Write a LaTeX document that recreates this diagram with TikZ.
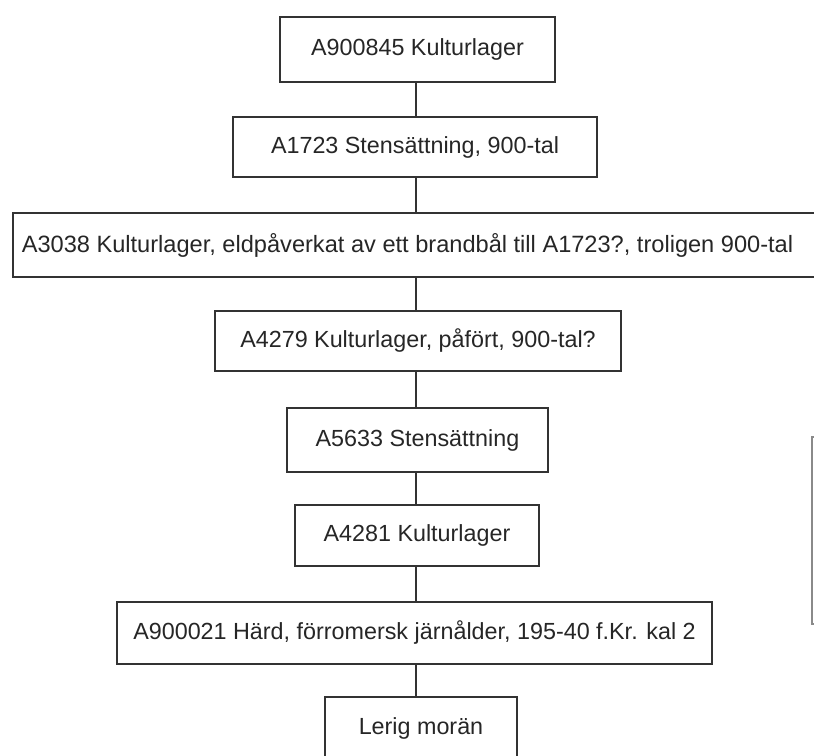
\documentclass[tikz,border=0pt]{standalone}
\usepackage{fontspec}
\setmainfont{Liberation Sans}
\definecolor{edge}{HTML}{333333}
\definecolor{sidegray}{HTML}{8A8A8A}
\tikzset{
  box/.style={draw=edge, line width=0.9pt, rectangle, inner sep=0pt, font=\fontsize{17.5}{21}\selectfont, text=black!85},
  link/.style={draw=edge, line width=0.9pt},
  lbl/.style={inner sep=0pt, font=\fontsize{17.5}{21}\selectfont, text=black!85}
}
\begin{document}
\begin{tikzpicture}[x=0.75pt, y=-0.75pt]
\useasboundingbox (0,0) rectangle (814,756);
\node[box, minimum width=275*0.75pt, minimum height=65*0.75pt] (b1) at (417.5,49.5) {A900845 Kulturlager};
\node[box, minimum width=364*0.75pt, minimum height=60*0.75pt] (b2) at (415,147) {A1723 Stensättning, 900-tal};
\node[box, minimum width=827*0.75pt, minimum height=64*0.75pt] (b3) at (426.5,245) {};
\node[lbl, font=\fontsize{17.7}{21}\selectfont] (t3) at (407.5,245) {A3038 Kulturlager, eldpåverkat av ett brandbål till A1723?, troligen 900-tal};
\node[box, minimum width=406*0.75pt, minimum height=60*0.75pt] (b4) at (418,341) {A4279 Kulturlager, påfört, 900-tal?};
\node[box, minimum width=261*0.75pt, minimum height=64*0.75pt] (b5) at (417.5,440) {A5633 Stensättning};
\node[box, minimum width=244*0.75pt, minimum height=61*0.75pt] (b6) at (417,535.5) {A4281 Kulturlager};
\node[box, minimum width=595*0.75pt, minimum height=62*0.75pt] (b7) at (414.5,633) {A900021 Härd, förromersk järnålder, 195-40 f.Kr. kal 2};
\node[box, minimum width=192*0.75pt, minimum height=63*0.75pt] (b8) at (421,728.5) {Lerig morän};
\node[draw=sidegray, line width=1.4pt, rectangle, inner sep=0pt, minimum width=30*0.75pt, minimum height=187*0.75pt] (side) at (827,530.5) {};
\coordinate (c1) at (416,82);
\draw[link] (b1.south -| c1) -- (b2.north -| c1);
\draw[link] (b2.south -| c1) -- (b3.north -| c1);
\draw[link] (b3.south -| c1) -- (b4.north -| c1);
\draw[link] (b4.south -| c1) -- (b5.north -| c1);
\draw[link] (b5.south -| c1) -- (b6.north -| c1);
\draw[link] (b6.south -| c1) -- (b7.north -| c1);
\draw[link] (b7.south -| c1) -- (b8.north -| c1);
\end{tikzpicture}
\end{document}
